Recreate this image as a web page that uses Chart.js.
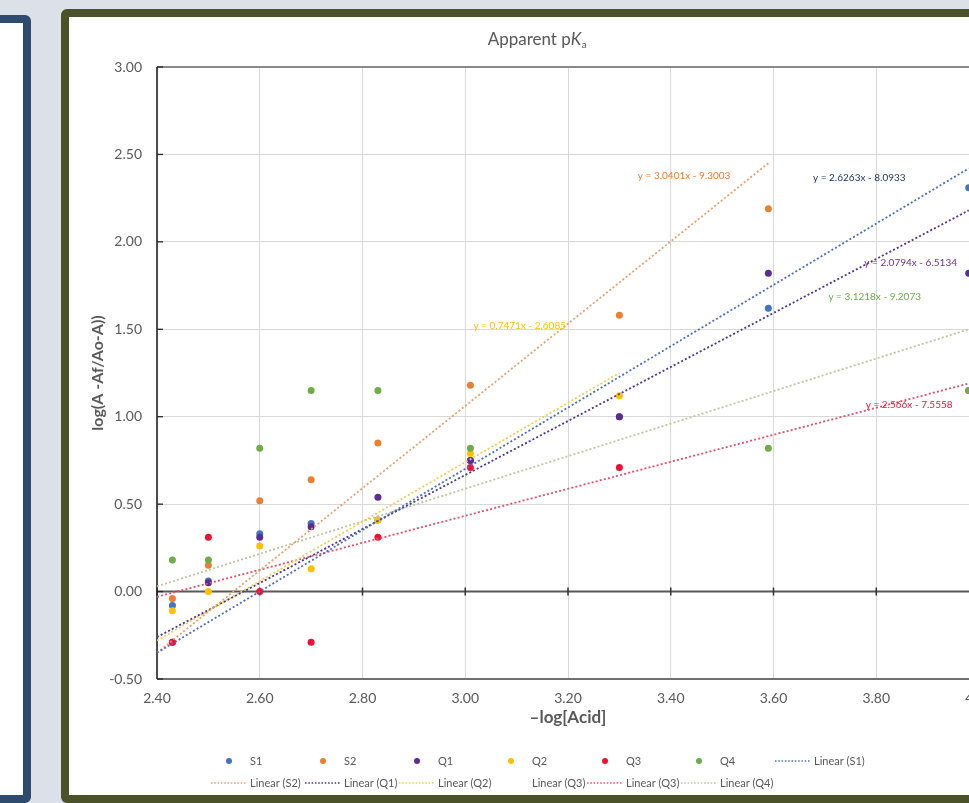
<!DOCTYPE html>
<html><head><meta charset="utf-8">
<script src="https://cdn.jsdelivr.net/npm/chart.js@4.4.1/dist/chart.umd.min.js"></script>
<style>
html,body{margin:0;padding:0;}
body{width:969px;height:803px;overflow:hidden;background:#dce0e8;position:relative;font-family:Lato,sans-serif;}
#side{position:absolute;left:-20px;top:15px;width:35px;height:772px;border:8px solid #2e4a6c;border-radius:6px;background:#fff;}
#frame{position:absolute;left:61px;top:9px;width:936px;height:778px;border:8px solid #4b5229;border-radius:6px;background:#fff;overflow:hidden;}
#wrap{position:absolute;left:0;top:0;width:936px;height:778px;}
</style></head>
<body>
<div id="side"></div>
<div id="frame"><div id="wrap"><canvas id="c" width="936" height="778"></canvas></div></div>
<script>
// ---- data ----
const xValues = [2.43, 2.50, 2.60, 2.70, 2.83, 3.01, 3.30, 3.59, 3.98];
const seriesNames = ['S1', 'S2', 'Q1', 'Q2', 'Q3', 'Q4'];
const s1Values = [-0.08, 0.06, 0.33, 0.39, 0.41, 0.75, 1.00, 1.62, 2.31];
const s2Values = [-0.04, 0.15, 0.52, 0.64, 0.85, 1.18, 1.58, 2.19, null];
const q1Values = [-0.29, 0.05, 0.31, 0.37, 0.54, 0.75, 1.00, 1.82, 1.82];
const q2Values = [-0.11, 0.00, 0.26, 0.13, 0.41, 0.79, 1.12, null, null];
const q3Values = [-0.29, 0.31, 0.00, -0.29, 0.31, 0.71, 0.71, null, 1.15];
const q4Values = [0.18, 0.18, 0.82, 1.15, 1.15, 0.82, null, 0.82, 1.15];

// trendline end points [x, y] (data units)
const trendS1 = [[2.40, -0.35], [3.98, 2.42]];
const trendS2 = [[2.40, -0.35], [3.59, 2.45]];
const trendQ1 = [[2.40, -0.26], [3.98, 2.18]];
const trendQ2 = [[2.40, -0.28], [3.30, 1.25]];
const trendQ3 = [[2.40, -0.03], [3.98, 1.19]];
const trendQ4 = [[2.40, 0.03], [3.98, 1.50]];

const trendNames = ['Linear (S1)', 'Linear (S2)', 'Linear (Q1)', 'Linear (Q2)', 'Linear (Q3)', 'Linear (Q3)', 'Linear (Q4)'];
const equationTexts = ['y = 2.6263x - 8.0933', 'y = 3.0401x - 9.3003', 'y = 2.0794x - 6.5134',
                       'y = 0.7471x - 2.6085', 'y = 2.566x - 7.5558', 'y = 3.1218x - 9.2073'];

const xTickLabels = ['2.40', '2.60', '2.80', '3.00', '3.20', '3.40', '3.60', '3.80', '4.00'];
const yTickLabels = ['-0.50', '0.00', '0.50', '1.00', '1.50', '2.00', '2.50', '3.00'];

const chartTitle = 'Apparent pKa';
const xTitle = '\u2013log[Acid]';
const yTitle = 'log(A -Af/Ao-A))';

// ---- styling ----
const FONT = 'Lato, "Open Sans", sans-serif';
const TXT = '#595959';
const pointColors = ['#4472c4', '#ed7d31', '#5b2d90', '#ffc000', '#ee1133', '#70ad47'];
const trendColors = ['#4a6fc0', '#e9a070', '#4b3590', '#f5cc55', '#e4506a', '#bcc79e'];
const eqColors = ['#203864', '#ed7d31', '#7030a0', '#ffc000', '#e8173a', '#70ad47'];
// label anchor (data coords) for the equation of each trendline
const eqAnchors = [[3.767, 2.365], [3.426, 2.377], [3.867, 1.879], [3.106, 1.519], [3.864, 1.067], [3.797, 1.685]];

const seriesValues = [s1Values, s2Values, q1Values, q2Values, q3Values, q4Values];
const trends = [trendS1, trendS2, trendQ1, trendQ2, null, trendQ3, trendQ4];
const trendColorIdx = [0, 1, 2, 3, -1, 4, 5];

const datasets = [];
seriesNames.forEach((n, i) => {
  datasets.push({
    label: n, type: 'scatter', kind: 'point',
    data: xValues.map((x, k) => ({x: x, y: seriesValues[i][k]})).filter(p => p.y !== null),
    backgroundColor: pointColors[i], borderColor: pointColors[i], borderWidth: 0,
    pointRadius: 3.5, showLine: false, order: 20 - i
  });
});
trendNames.forEach((n, j) => {
  const t = trends[j];
  const ci = trendColorIdx[j];
  datasets.push({
    label: n, type: 'line', kind: t ? 'line' : 'none',
    data: t ? t.map(p => ({x: p[0], y: p[1]})) : [],
    borderColor: ci >= 0 ? trendColors[ci] : 'rgba(0,0,0,0)',
    borderWidth: t ? 1.8 : 0, borderDash: [2, 2.2], pointRadius: 0, fill: false,
    showLine: true, tension: 0, order: 1
  });
});

const decor = {
  id: 'decor',
  beforeDatasetsDraw(chart) {
    const ctx = chart.ctx, a = chart.chartArea, xs = chart.scales.x, ys = chart.scales.y;
    ctx.save();
    // top + bottom border
    ctx.strokeStyle = '#8a8a8a'; ctx.lineWidth = 2;
    ctx.beginPath(); ctx.moveTo(a.left, a.top); ctx.lineTo(a.right, a.top); ctx.stroke();
    ctx.strokeStyle = '#707070';
    ctx.beginPath(); ctx.moveTo(a.left, a.bottom); ctx.lineTo(a.right, a.bottom); ctx.stroke();
    // y=0 axis with cross ticks
    const y0 = ys.getPixelForValue(0);
    ctx.strokeStyle = '#595959'; ctx.lineWidth = 2;
    ctx.beginPath(); ctx.moveTo(a.left, y0); ctx.lineTo(a.right, y0); ctx.stroke();
    ctx.strokeStyle = '#303030'; ctx.lineWidth = 1.5;
    xTickLabels.forEach(t => {
      const px = xs.getPixelForValue(parseFloat(t));
      ctx.beginPath(); ctx.moveTo(px, y0 - 4); ctx.lineTo(px, y0 + 4); ctx.stroke();
    });
    // left axis with inner ticks
    ctx.strokeStyle = '#262626'; ctx.lineWidth = 1.6;
    ctx.beginPath(); ctx.moveTo(a.left, a.top); ctx.lineTo(a.left, a.bottom); ctx.stroke();
    ctx.lineWidth = 1.3;
    yTickLabels.forEach(t => {
      const py = ys.getPixelForValue(parseFloat(t));
      ctx.beginPath(); ctx.moveTo(a.left, py); ctx.lineTo(a.left + 6, py); ctx.stroke();
    });
    ctx.restore();
  },
  afterDraw(chart) {
    const ctx = chart.ctx, a = chart.chartArea, xs = chart.scales.x, ys = chart.scales.y;
    ctx.save();
    // title with italic K and subscript a
    const p1 = chartTitle.slice(0, chartTitle.length - 2), p2 = chartTitle.slice(-2, -1), p3 = chartTitle.slice(-1);
    ctx.fillStyle = TXT; ctx.textBaseline = 'alphabetic';
    const f1 = '17px ' + FONT, f2 = 'italic 17px ' + FONT, f3 = '10px ' + FONT;
    ctx.font = f1; const w1 = ctx.measureText(p1).width;
    ctx.font = f2; const w2 = ctx.measureText(p2).width;
    ctx.font = f3; const w3 = ctx.measureText(p3).width;
    let tx = 468 - (w1 + w2 + w3) / 2; const ty = 28;
    ctx.textAlign = 'left';
    ctx.font = f1; ctx.fillText(p1, tx, ty); tx += w1;
    ctx.font = f2; ctx.fillText(p2, tx, ty); tx += w2 + 0.5;
    ctx.font = f3; ctx.fillText(p3, tx, ty + 3);
    // x axis title
    ctx.font = 'bold 17px ' + FONT; ctx.textAlign = 'center'; ctx.textBaseline = 'middle';
    ctx.fillText(xTitle, (a.left + a.right) / 2, 701);
    // equation labels
    ctx.font = '10px ' + FONT;
    eqAnchors.forEach((p, i) => {
      ctx.fillStyle = eqColors[i];
      ctx.fillText(equationTexts[i], xs.getPixelForValue(p[0]), ys.getPixelForValue(p[1]));
    });
    // legend (Excel-like uniform columns)
    const colW = 94, startX = 142, rowY = [744, 766];
    ctx.font = '11px ' + FONT; ctx.textAlign = 'left'; ctx.textBaseline = 'middle';
    chart.data.datasets.forEach((ds, i) => {
      const r = Math.floor(i / 7), c = i % 7;
      const x = startX + c * colW, y = rowY[r];
      if (ds.kind === 'point') {
        ctx.fillStyle = ds.backgroundColor;
        ctx.beginPath(); ctx.arc(x + 18, y, 3, 0, Math.PI * 2); ctx.fill();
      } else if (ds.kind === 'line') {
        ctx.strokeStyle = ds.borderColor; ctx.lineWidth = 1.3; ctx.setLineDash([1.5, 1.8]);
        ctx.beginPath(); ctx.moveTo(x, y); ctx.lineTo(x + 35, y); ctx.stroke(); ctx.setLineDash([]);
      }
      ctx.fillStyle = TXT;
      ctx.fillText(ds.label, x + 39, y + 0.5);
    });
    ctx.restore();
  }
};

new Chart(document.getElementById('c'), {
  type: 'scatter',
  data: {datasets: datasets},
  options: {
    responsive: false, animation: false, devicePixelRatio: 1, events: [],
    layout: {padding: {top: 50, right: 26, bottom: 86, left: 0}},
    plugins: {legend: {display: false}, title: {display: false}, tooltip: {enabled: false}},
    scales: {
      x: {
        type: 'linear', position: 'bottom', min: 2.4, max: 4.0,
        afterBuildTicks(s) { s.ticks = xTickLabels.map(t => ({value: parseFloat(t)})); },
        afterFit(s) { s.height = 30; },
        grid: {color: '#d9d9d9', lineWidth: 1, drawTicks: false},
        border: {display: false},
        ticks: {padding: 11, color: TXT, font: {family: FONT, size: 14}, maxRotation: 0, autoSkip: false,
                callback: (v, i) => xTickLabels[i]}
      },
      y: {
        type: 'linear', position: 'left', min: -0.5, max: 3.0,
        afterBuildTicks(s) { s.ticks = yTickLabels.map(t => ({value: parseFloat(t)})); },
        afterFit(s) { s.width = 88; },
        grid: {color: '#d9d9d9', lineWidth: 1, drawTicks: false},
        border: {display: false},
        ticks: {padding: 15, color: TXT, font: {family: FONT, size: 14}, autoSkip: false,
                callback: (v, i) => yTickLabels[i]},
        title: {display: true, text: yTitle, color: TXT, font: {family: FONT, size: 16, weight: 'bold'},
                padding: {top: 19, bottom: 0}}
      }
    }
  },
  plugins: [decor]
});
</script>
</body></html>
